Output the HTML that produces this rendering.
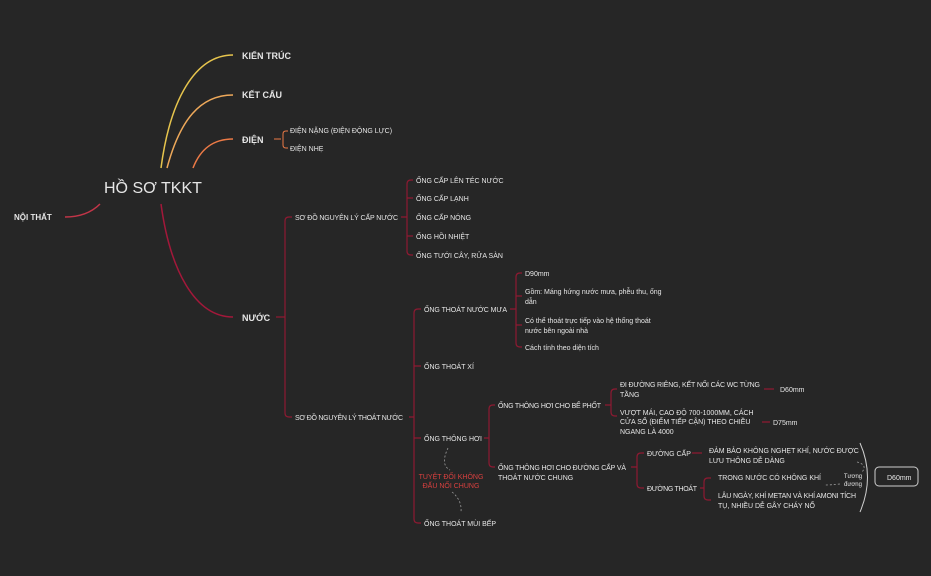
<!DOCTYPE html>
<html><head><meta charset="utf-8"><style>
html,body{margin:0;padding:0;background:#262626;}
svg{display:block}
text{font-family:"Liberation Sans",sans-serif;fill:#e6e6e6;}
.s{font-size:7px}
.m{font-size:9px;font-weight:bold}
</style></head><body>
<svg width="931" height="576" viewBox="0 0 931 576" xmlns="http://www.w3.org/2000/svg">
<rect width="931" height="576" fill="#262626"/>
<g fill="none" stroke-width="1.5">
<path d="M161,168 C170,100 195,55 233,55" stroke="#e6c44d"/>
<path d="M167,168 C180,120 200,95 233,95" stroke="#eda85a"/>
<path d="M193,168 C200,150 212,139 233,139" stroke="#ec7a46"/>
<path d="M161,204 C170,270 195,317 233,317" stroke="#a3183a"/>
<path d="M100,204 C92,212 80,217 65,217" stroke="#c23548"/>
</g>
<g fill="none" stroke="#ec7a46" stroke-width="1">
<path d="M274,139 H281 M286,131 Q283,131 283,134 V145 Q283,148 286,148 H288 M286,131 H288"/>
</g>
<g fill="none" stroke="#8e1a32" stroke-width="1.2">
<path d="M276,317 H285 M289,217 Q285,217 285,221 V413 Q285,417 289,417 H292 M289,217 H292"/>
<path d="M401,217 H407 M411,180 Q407,180 407,184 V251 Q407,255 411,255 H413 M407,198 H413 M407,236 H413 M411,180 H413"/>
<path d="M409,417 H414 M418,309 Q414,309 414,313 V519 Q414,523 418,523 H421 M414,366 H421 M414,438 H421 M418,309 H421"/>
<path d="M510,309 H516 M520,273 Q516,273 516,277 V343 Q516,347 520,347 H522 M516,296 H522 M516,325 H522 M520,273 H522"/>
<path d="M484,438 H489 M493,405 Q489,405 489,409 V463 Q489,467 493,467 H495 M493,405 H495"/>
<path d="M605,405 H611 M615,389 Q611,389 611,393 V412 Q611,416 615,416 H617 M615,389 H617"/>
<path d="M764,389 H774 M762,422 H770"/>
<path d="M631,467 H637 M641,453 Q637,453 637,457 V484 Q637,488 641,488 H644 M641,453 H644"/>
<path d="M692,453 H702 M700,488 H704 M708,478 Q704,478 704,482 V496 Q704,500 708,500 H711 M708,478 H711"/>
</g>
<path d="M860,443 Q875,477 860,512" fill="none" stroke="#cfcfcf" stroke-width="1"/>
<rect x="875" y="467" width="43" height="19" rx="4" fill="none" stroke="#cfcfcf" stroke-width="1"/>
<g fill="none" stroke="#9a9a9a" stroke-width="0.8" stroke-dasharray="2,2">
<path d="M857,462 Q868,465 862,472"/>
<path d="M840,484 Q830,485 824,485"/>
<path d="M448,448 Q440,465 450,470 M452,492 Q462,500 461,512"/>
</g>
<text x="104" y="193" style="font-size:16px">HỒ SƠ TKKT</text>
<text class="m" x="14" y="220" style="font-size:8px">NỘI THẤT</text>
<text class="m" x="242" y="59">KIẾN TRÚC</text>
<text class="m" x="242" y="98">KẾT CẤU</text>
<text class="m" x="242" y="143">ĐIỆN</text>
<text class="m" x="242" y="321">NƯỚC</text>
<g class="s">
<text x="290" y="133">ĐIỆN NẶNG (ĐIỆN ĐỘNG LỰC)</text>
<text x="290" y="151">ĐIỆN NHẸ</text>
<text x="295" y="220" textLength="103">SƠ ĐỒ NGUYÊN LÝ CẤP NƯỚC</text>
<text x="295" y="420" textLength="108">SƠ ĐỒ NGUYÊN LÝ THOÁT NƯỚC</text>
<text x="416" y="183">ỐNG CẤP LÊN TÉC NƯỚC</text>
<text x="416" y="201">ỐNG CẤP LẠNH</text>
<text x="416" y="220">ỐNG CẤP NÓNG</text>
<text x="416" y="239">ỐNG HỒI NHIỆT</text>
<text x="416" y="258">ỐNG TƯỚI CÂY, RỬA SÀN</text>
<text x="424" y="312" textLength="83">ỐNG THOÁT NƯỚC MƯA</text>
<text x="424" y="369">ỐNG THOÁT XÍ</text>
<text x="424" y="441">ỐNG THÔNG HƠI</text>
<text x="424" y="526">ỐNG THOÁT MÙI BẾP</text>
<text x="525" y="276">D90mm</text>
<text x="525" y="294">Gồm: Máng hứng nước mưa, phễu thu, ống</text>
<text x="525" y="304">dẫn</text>
<text x="525" y="323">Có thể thoát trực tiếp vào hệ thống thoát</text>
<text x="525" y="333">nước bên ngoài nhà</text>
<text x="525" y="350">Cách tính theo diện tích</text>
<text x="498" y="408" textLength="103">ỐNG THÔNG HƠI CHO BỂ PHỐT</text>
<text x="498" y="470" textLength="128">ỐNG THÔNG HƠI CHO ĐƯỜNG CẤP VÀ</text>
<text x="498" y="480">THOÁT NƯỚC CHUNG</text>
<text x="620" y="387" textLength="140">ĐI ĐƯỜNG RIÊNG, KẾT NỐI CÁC WC TỪNG</text>
<text x="620" y="397">TẦNG</text>
<text x="620" y="415">VƯỢT MÁI, CAO ĐỘ 700-1000MM, CÁCH</text>
<text x="620" y="424">CỬA SỔ (ĐIỂM TIẾP CẬN) THEO CHIỀU</text>
<text x="620" y="434">NGANG LÀ 4000</text>
<text x="780" y="392">D60mm</text>
<text x="773" y="425">D75mm</text>
<text x="647" y="456">ĐƯỜNG CẤP</text>
<text x="647" y="491" textLength="50">ĐƯỜNG THOÁT</text>
<text x="709" y="453">ĐẢM BẢO KHÔNG NGHẸT KHÍ, NƯỚC ĐƯỢC</text>
<text x="709" y="463">LƯU THÔNG DỄ DÀNG</text>
<text x="718" y="480">TRONG NƯỚC CÓ KHÔNG KHÍ</text>
<text x="718" y="498" textLength="138">LÂU NGÀY, KHÍ METAN VÀ KHÍ AMONI TÍCH</text>
<text x="718" y="508">TỤ, NHIỀU DỄ GÂY CHÁY NỔ</text>
<text x="887" y="480">D60mm</text>
<text x="853" y="478" text-anchor="middle" style="font-size:6px">Tương</text>
<text x="853" y="486" text-anchor="middle" style="font-size:6px">đương</text>
<text x="451" y="479" text-anchor="middle" style="fill:#d9403f">TUYỆT ĐỐI KHÔNG</text>
<text x="451" y="488" text-anchor="middle" style="fill:#d9403f">ĐẤU NỐI CHUNG</text>
</g>
</svg>
</body></html>
